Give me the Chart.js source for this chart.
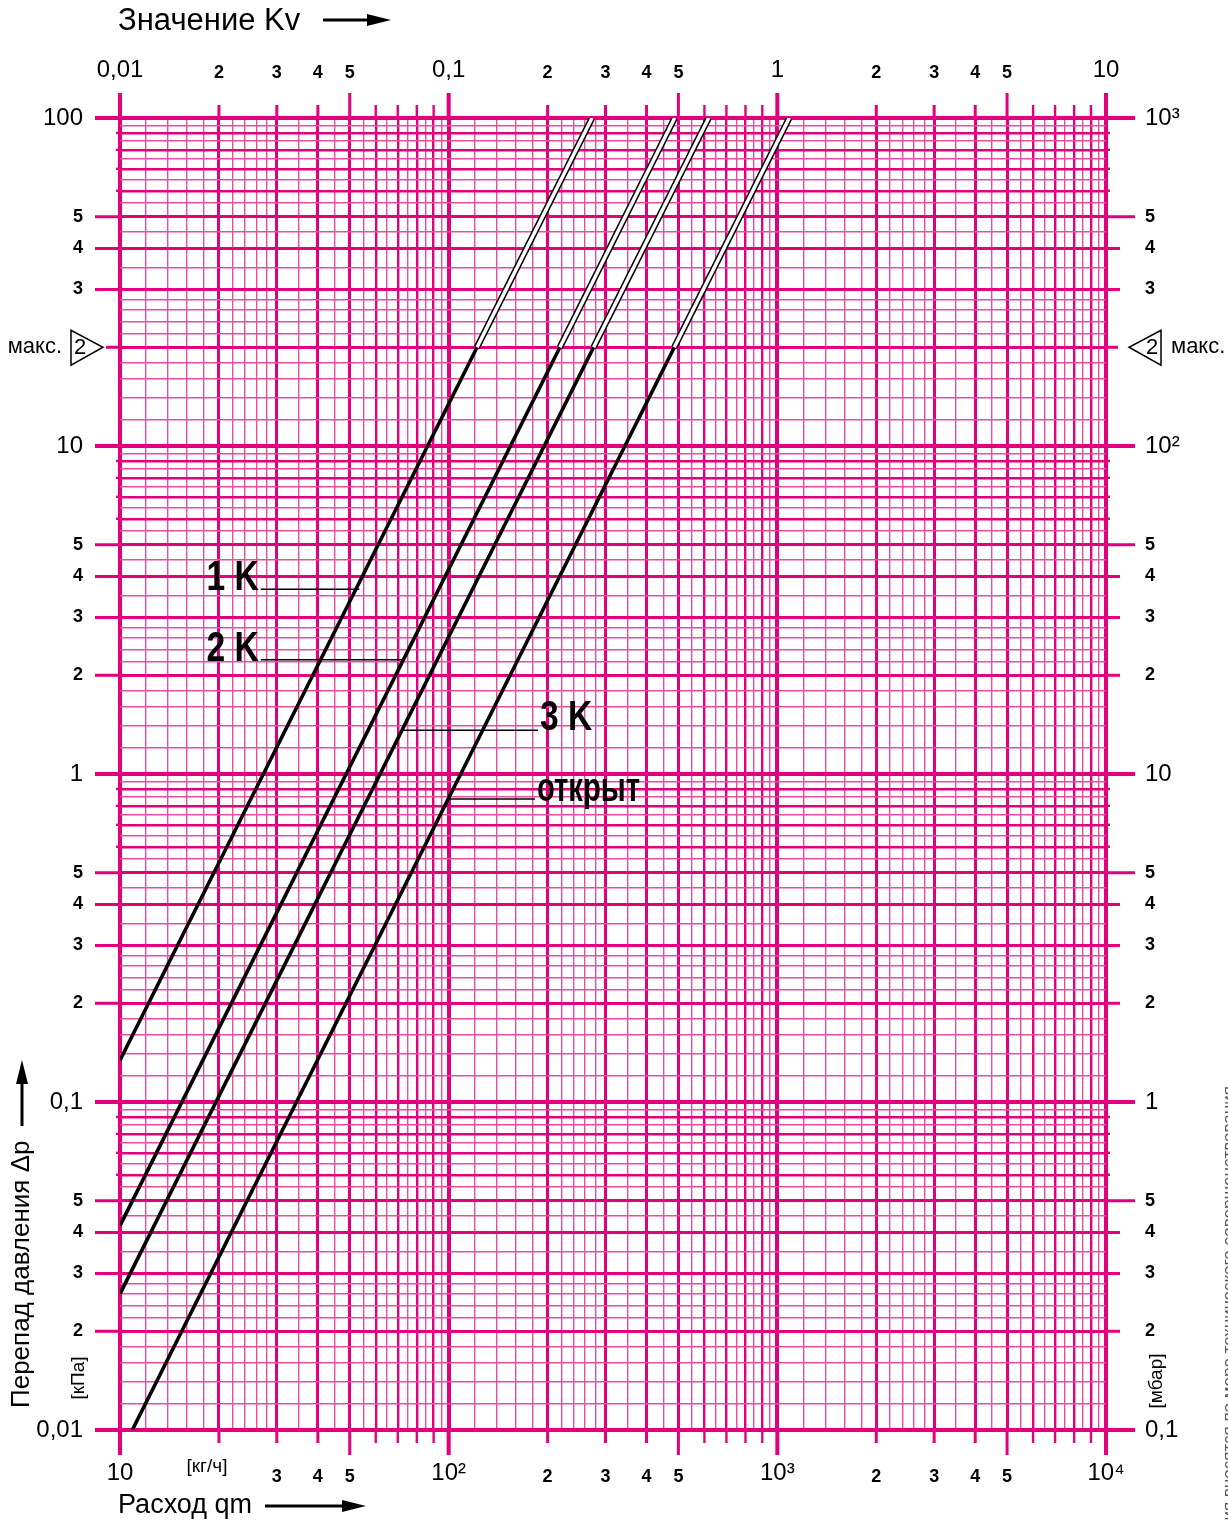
<!DOCTYPE html>
<html>
<head>
<meta charset="utf-8">
<script src="https://cdn.jsdelivr.net/npm/chart.js@4.4.1/dist/chart.umd.min.js"></script>
<style>
  html, body { margin: 0; padding: 0; background: #fff; }
  canvas { display: block; }
</style>
</head>
<body>
<canvas id="diagram" width="1228" height="1521"></canvas>
<script>
const SETTINGS = ['1 K', '2 K', '3 K', 'открыт'];
const SOLID_QM = [[10, 122], [10, 218], [10, 276], [10.9, 486]];
const SOLID_DP = [[0.134, 20], [0.042, 20], [0.026, 20], [0.01, 20]];
const EXT_QM = [[122, 273], [218, 487], [276, 618], [486, 1087]];
const EXT_DP = [[20, 100], [20, 100], [20, 100], [20, 100]];
const LEADER_QM = [[26.8, 53.5], [26.8, 72.5], [72.5, 187], [100.5, 183]];
const LEADER_DP = [3.66, 2.23, 1.36, 0.839];
const DP_MAX_KPA = 20;

// Шкалы
const QM_DECADES = [10, 100, 1000, 10000];
const QM_LABELS = ['10', '10²', '10³', '10⁴'];
const KV_DECADES = [0.01, 0.1, 1, 10];
const KV_LABELS = ['0,01', '0,1', '1', '10'];
const KPA_DECADES = [0.01, 0.1, 1, 10, 100];
const KPA_LABELS = ['0,01', '0,1', '1', '10', '100'];
const MBAR_DECADES = [0.1, 1, 10, 100, 1000];
const MBAR_LABELS = ['0,1', '1', '10', '10²', '10³'];
const GRID_MANTISSA = [1, 1.2, 1.4, 1.6, 1.8, 2, 2.2, 2.4, 2.6, 2.8, 3, 3.5, 4, 4.5, 5, 5.5, 6, 6.5, 7, 7.5, 8, 8.5, 9, 9.5];
const LABEL_DIGITS = [2, 3, 4, 5];

const FONT = '"Liberation Sans", Arial, Helvetica, sans-serif';
const PINK = '#E4007C';
const PINK_LIGHT = '#EC4C9F';

function mantissa(v) {
  const e = Math.floor(Math.log10(v) + 1e-9);
  return Math.round(v / Math.pow(10, e) * 100) / 100;
}
function same(a, b) { return Math.abs(a / b - 1) < 1e-6; }
function isDecade(v) { return v > 0 && mantissa(v) === 1; }

function gridTicks(decades) {
  const out = [];
  for (let i = 0; i < decades.length - 1; i++) {
    GRID_MANTISSA.forEach(m => out.push({ value: parseFloat((decades[i] * m).toPrecision(6)) }));
  }
  out.push({ value: decades[decades.length - 1] });
  return out;
}

function tickLabel(v, decades, labels, skip) {
  const i = decades.findIndex(d => same(v, d));
  if (i >= 0) return labels[i];
  if (skip.some(s => same(v, s))) return '';
  const m = mantissa(v);
  return LABEL_DIGITS.includes(m) ? String(m) : '';
}

function gridWidth(v) {
  const m = mantissa(v);
  if (m === 1) return 4;
  if (Number.isInteger(m) && m <= 5) return 3;
  if (Number.isInteger(m)) return 2.4;
  return 1.4;
}
function gridColor(v) {
  return Number.isInteger(mantissa(v)) ? PINK : PINK_LIGHT;
}

function tickFont(smallLineHeight) {
  return c => {
    const v = c.tick ? c.tick.value : 1;
    return isDecade(v)
      ? { family: FONT, size: 24, lineHeight: 1.2 }
      : { family: FONT, size: 18, weight: 'bold', lineHeight: smallLineHeight };
  };
}

function scaleBase(extra) {
  return Object.assign({
    type: 'logarithmic',
    border: { display: false },
    grid: { display: false, drawTicks: false },
    ticks: { autoSkip: false, maxRotation: 0, minRotation: 0, color: '#000' },
  }, extra);
}

const pts = (xs, ys) => xs.map((x, i) => ({ x, y: ys[i] }));

const datasets = [];
SETTINGS.forEach((name, i) => {
  const common = { pointRadius: 0, fill: false, tension: 0, borderCapStyle: 'butt' };
  datasets.push({ ...common, label: name + ' (внутр.)', data: pts(EXT_QM[i], EXT_DP[i]), borderColor: '#fff', borderWidth: 3.5, order: 0 });
  datasets.push({ ...common, label: name + ' (контур)', data: pts(EXT_QM[i], EXT_DP[i]), borderColor: '#000', borderWidth: 6.5, order: 1 });
  datasets.push({ ...common, label: name, data: pts(SOLID_QM[i], SOLID_DP[i]), borderColor: '#000', borderWidth: 3.6, order: 1 });
  datasets.push({ ...common, label: name + ' (выноска)', data: pts(LEADER_QM[i], [LEADER_DP[i], LEADER_DP[i]]), borderColor: '#000', borderWidth: 1.5, order: 2 });
});

// подписи слева от выноски или справа
const labelLeft = [true, true, false, false];

function arrow(ctx, x1, y1, x2, y2) {
  const ang = Math.atan2(y2 - y1, x2 - x1);
  const head = 24, half = 6;
  ctx.save();
  ctx.strokeStyle = '#000';
  ctx.fillStyle = '#000';
  ctx.lineWidth = 3;
  ctx.beginPath();
  ctx.moveTo(x1, y1);
  ctx.lineTo(x2 - head * Math.cos(ang), y2 - head * Math.sin(ang));
  ctx.stroke();
  ctx.translate(x2, y2);
  ctx.rotate(ang);
  ctx.beginPath();
  ctx.moveTo(0, 0);
  ctx.lineTo(-head, -half);
  ctx.lineTo(-head, half);
  ctx.closePath();
  ctx.fill();
  ctx.restore();
}

function maxMarker(ctx, yPix, side) {
  ctx.save();
  ctx.strokeStyle = '#000';
  ctx.fillStyle = '#000';
  ctx.lineWidth = 1.5;
  ctx.beginPath();
  if (side === 'left') {
    ctx.moveTo(71, yPix - 17); ctx.lineTo(71, yPix + 18); ctx.lineTo(103, yPix); ctx.closePath();
  } else {
    ctx.moveTo(1161, yPix - 17); ctx.lineTo(1161, yPix + 18); ctx.lineTo(1129, yPix); ctx.closePath();
  }
  ctx.stroke();
  ctx.textBaseline = 'middle';
  ctx.font = '22px ' + FONT;
  ctx.textAlign = 'center';
  ctx.fillText('2', side === 'left' ? 80 : 1152, yPix + 1);
  ctx.font = '22px ' + FONT;
  if (side === 'left') {
    ctx.textAlign = 'right';
    ctx.fillText('макс.', 62, yPix);
  } else {
    ctx.textAlign = 'left';
    ctx.fillText('макс.', 1171, yPix);
  }
  ctx.restore();
}

const decorPlugin = {
  id: 'decor',
  afterDraw(chart) {
    const { ctx, chartArea: a } = chart;
    const { x, x2, y, y2 } = chart.scales;

    // выносные штрихи шкал
    const outer = (scale, side) => {
      scale.ticks.forEach(t => {
        const v = t.value;
        const m = mantissa(v);
        if (!Number.isInteger(m)) return;
        const p = scale.getPixelForValue(v);
        let len;
        if (side === 'top' || side === 'bottom') len = (m === 1 || m === 5) ? 25 : 13;
        else if (side === 'left') len = m <= 5 ? 25 : 4;
        else len = (m === 1 || m === 5) ? 29 : (m <= 4 ? 14 : 4);
        if (side === 'left' && same(v, DP_MAX_KPA)) len = 14;
        if (side === 'right' && same(v, DP_MAX_KPA * 10)) len = 12;
        ctx.save();
        ctx.strokeStyle = gridColor(v);
        ctx.lineWidth = gridWidth(v);
        ctx.beginPath();
        if (side === 'bottom') { ctx.moveTo(p, a.bottom); ctx.lineTo(p, a.bottom + len); }
        if (side === 'top') { ctx.moveTo(p, a.top); ctx.lineTo(p, a.top - len); }
        if (side === 'left') { ctx.moveTo(a.left, p); ctx.lineTo(a.left - len, p); }
        if (side === 'right') { ctx.moveTo(a.right, p); ctx.lineTo(a.right + len, p); }
        ctx.stroke();
        ctx.restore();
      });
    };
    outer(x, 'bottom');
    outer(x2, 'top');
    outer(y, 'left');
    outer(y2, 'right');

    // подписи настроек
    SETTINGS.forEach((name, i) => {
      const yp = y.getPixelForValue(LEADER_DP[i]);
      const xs = LEADER_QM[i].map(q => x.getPixelForValue(q));
      const isOpen = name === 'открыт';
      ctx.save();
      ctx.fillStyle = '#000';
      ctx.font = 'bold ' + (isOpen ? 40 : 42) + 'px ' + FONT;
      ctx.textBaseline = 'alphabetic';
      if (labelLeft[i]) {
        ctx.translate(xs[0] - 2, yp + 1);
        ctx.textAlign = 'right';
      } else {
        ctx.translate(xs[1] + 2, yp + (isOpen ? 2 : 0));
        ctx.textAlign = 'left';
      }
      ctx.scale(isOpen ? 0.73 : 0.8, 1);
      ctx.fillText(name, 0, 0);
      ctx.restore();
    });

    // заголовки осей
    ctx.save();
    ctx.fillStyle = '#000';
    ctx.textBaseline = 'middle';
    ctx.textAlign = 'left';
    ctx.font = '31px ' + FONT;
    ctx.fillText('Значение Kv', 118, 21);
    arrow(ctx, 323, 20, 391, 20);

    ctx.font = '27px ' + FONT;
    ctx.fillText('Расход qm', 118, 1506);
    arrow(ctx, 265, 1506, 366, 1506);

    ctx.font = '19px ' + FONT;
    ctx.textAlign = 'center';
    ctx.fillText('[кг/ч]', 207, 1467);

    ctx.save();
    ctx.translate(22, 1408);
    ctx.rotate(-Math.PI / 2);
    ctx.textAlign = 'left';
    ctx.font = '26px ' + FONT;
    ctx.fillText('Перепад давления Δp', 0, 0);
    ctx.restore();
    arrow(ctx, 22, 1126, 22, 1060);

    ctx.save();
    ctx.translate(79, 1378);
    ctx.rotate(-Math.PI / 2);
    ctx.textAlign = 'center';
    ctx.font = '19px ' + FONT;
    ctx.fillText('[кПа]', 0, 0);
    ctx.restore();

    ctx.save();
    ctx.translate(1157, 1381);
    ctx.rotate(-Math.PI / 2);
    ctx.textAlign = 'center';
    ctx.font = '19px ' + FONT;
    ctx.fillText('[мбар]', 0, 0);
    ctx.restore();

    // обрезанная служебная надпись у края
    ctx.save();
    ctx.translate(1234, 1530);
    ctx.rotate(-Math.PI / 2);
    ctx.textAlign = 'left';
    ctx.textBaseline = 'alphabetic';
    ctx.fillStyle = '#555';
    ctx.font = '17px ' + FONT;
    ctx.fillText('ния вносятся по мере технического совершенствования', 0, 0);
    ctx.restore();
    ctx.restore();

    // отметки максимального перепада
    maxMarker(ctx, y.getPixelForValue(DP_MAX_KPA), 'left');
    maxMarker(ctx, y2.getPixelForValue(DP_MAX_KPA * 10), 'right');
  },
};

new Chart(document.getElementById('diagram'), {
  type: 'line',
  data: { datasets },
  options: {
    responsive: false,
    animation: false,
    events: [],
    layout: { padding: 0 },
    plugins: { legend: { display: false }, tooltip: { enabled: false } },
    scales: {
      x: scaleBase({
        position: 'bottom',
        min: 10,
        max: 10000,
        afterBuildTicks: s => { s.ticks = gridTicks(QM_DECADES); },
        afterFit: s => { s.height = 91; },
        grid: {
          display: true,
          drawTicks: false,
          lineWidth: c => gridWidth(c.tick.value),
          color: c => gridColor(c.tick.value),
        },
        ticks: {
          autoSkip: false, maxRotation: 0, minRotation: 0, color: '#000',
          padding: 29,
          font: tickFont(2.0),
          callback: v => tickLabel(v, QM_DECADES, QM_LABELS, [20]),
        },
      }),
      x2: scaleBase({
        position: 'top',
        min: 0.01,
        max: 10,
        afterBuildTicks: s => { s.ticks = gridTicks(KV_DECADES); },
        afterFit: s => { s.height = 118; },
        ticks: {
          autoSkip: false, maxRotation: 0, minRotation: 0, color: '#000',
          padding: 33,
          font: tickFont(1.3),
          callback: v => tickLabel(v, KV_DECADES, KV_LABELS, []),
        },
      }),
      y: scaleBase({
        position: 'left',
        min: 0.01,
        max: 100,
        afterBuildTicks: s => { s.ticks = gridTicks(KPA_DECADES); },
        afterFit: s => { s.width = 120; },
        grid: {
          display: true,
          drawTicks: false,
          lineWidth: c => gridWidth(c.tick.value),
          color: c => gridColor(c.tick.value),
        },
        ticks: {
          autoSkip: false, color: '#000',
          padding: 37,
          font: tickFont(1.2),
          callback: v => tickLabel(v, KPA_DECADES, KPA_LABELS, [DP_MAX_KPA]),
        },
      }),
      y2: scaleBase({
        position: 'right',
        min: 0.1,
        max: 1000,
        afterBuildTicks: s => { s.ticks = gridTicks(MBAR_DECADES); },
        afterFit: s => { s.width = 122; },
        ticks: {
          autoSkip: false, color: '#000',
          padding: 39,
          font: tickFont(1.2),
          callback: v => tickLabel(v, MBAR_DECADES, MBAR_LABELS, [DP_MAX_KPA * 10]),
        },
      }),
    },
  },
  plugins: [decorPlugin],
});
</script>
</body>
</html>
